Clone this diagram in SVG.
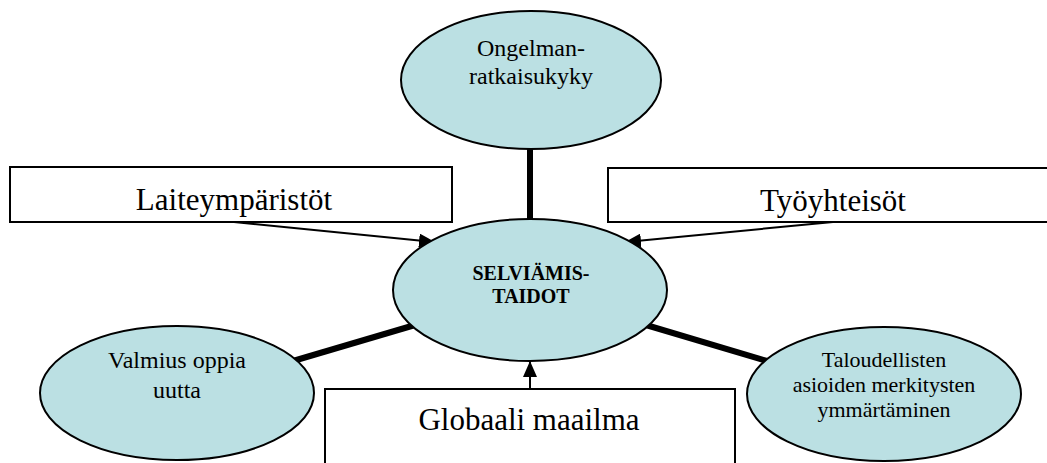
<svg xmlns="http://www.w3.org/2000/svg" width="1047" height="463" viewBox="0 0 1047 463">
<style>
.oval{fill:#bbe0e3;stroke:#000;stroke-width:2}
.box{fill:#fff;stroke:#000;stroke-width:2}
.t{font-family:"Liberation Serif","Times New Roman",serif;fill:#000;text-anchor:middle}
.thick{stroke:#000;stroke-width:6;fill:none}
.thin{stroke:#000;stroke-width:2;fill:none;marker-end:url(#ah)}
</style>
<defs>
<marker id="ah" markerUnits="userSpaceOnUse" markerWidth="16" markerHeight="14" refX="15" refY="7" orient="auto">
<path d="M0,0 L16,7 L0,14 Z" fill="#000"/>
</marker>
</defs>
<rect width="1047" height="463" fill="#fff"/>
<g id="connectors">
<line class="thick" x1="530" y1="148" x2="530" y2="220"/>
<line class="thick" x1="293" y1="361" x2="415" y2="325"/>
<line class="thick" x1="646" y1="325" x2="767" y2="361"/>
<line class="thin" x1="234" y1="222" x2="434" y2="242"/>
<line class="thin" x1="833" y1="222" x2="626" y2="242"/>
<line class="thin" x1="530" y1="389" x2="530" y2="362"/>
</g>
<g id="laiteymparistot">
<rect class="box" x="10" y="167" width="442" height="55"/>
<text class="t" x="234" y="210" font-size="31">Laiteympäristöt</text>
</g>
<g id="tyoyhteisot">
<rect class="box" x="608" y="168" width="450" height="54"/>
<text class="t" x="833" y="211" font-size="31">Työyhteisöt</text>
</g>
<g id="globaali">
<rect class="box" x="325" y="389" width="410" height="90"/>
<text class="t" x="529" y="430" font-size="31">Globaali maailma</text>
</g>
<g id="ongelman">
<ellipse class="oval" cx="531" cy="80" rx="130" ry="69"/>
<text class="t" x="531" y="56" font-size="24">Ongelman-</text>
<text class="t" x="531" y="84" font-size="24">ratkaisukyky</text>
</g>
<g id="selviamis">
<ellipse class="oval" cx="530" cy="290" rx="137" ry="71"/>
<text class="t" x="531" y="280" font-size="20" font-weight="bold">SELVIÄMIS-</text>
<text class="t" x="531" y="303" font-size="20" font-weight="bold">TAIDOT</text>
</g>
<g id="valmius">
<ellipse class="oval" cx="177" cy="393" rx="137" ry="67"/>
<text class="t" x="177" y="368" font-size="24">Valmius oppia</text>
<text class="t" x="177" y="398" font-size="24">uutta</text>
</g>
<g id="taloudellisten">
<ellipse class="oval" cx="884" cy="394" rx="137" ry="67"/>
<text class="t" x="884" y="367" font-size="22">Taloudellisten</text>
<text class="t" x="884" y="392" font-size="22">asioiden merkitysten</text>
<text class="t" x="884" y="417" font-size="22">ymmärtäminen</text>
</g>
</svg>
